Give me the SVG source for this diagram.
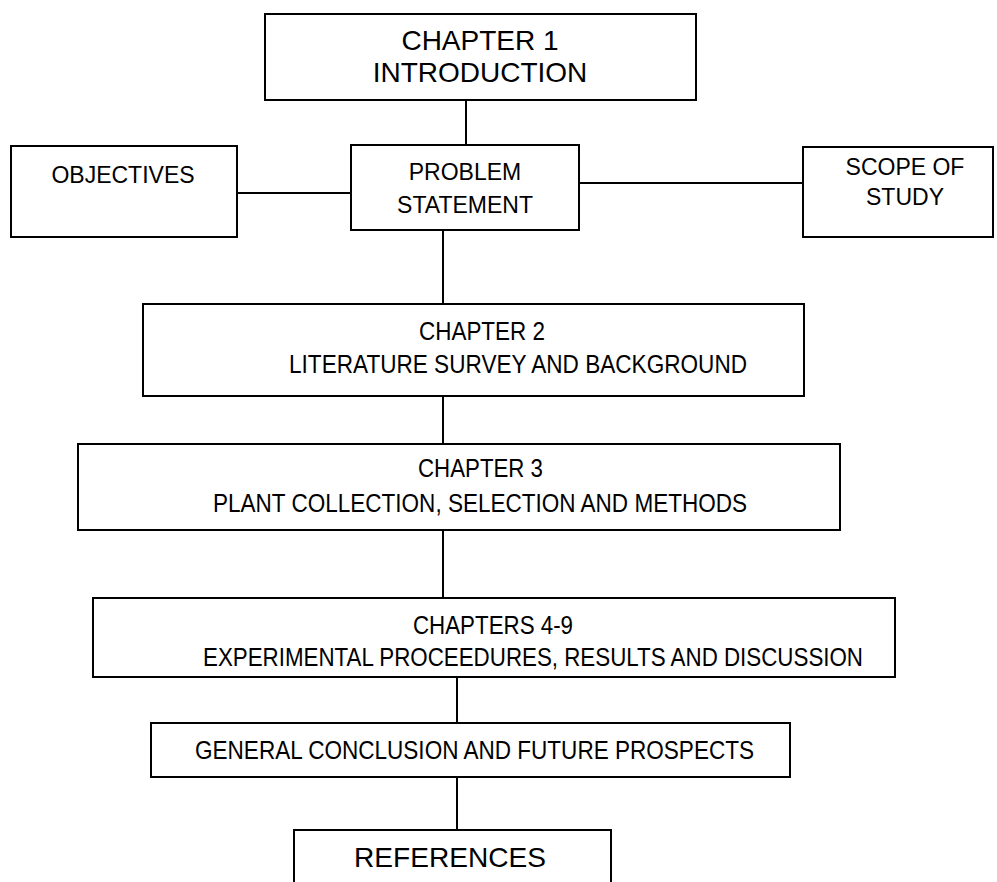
<svg xmlns="http://www.w3.org/2000/svg" width="997" height="882" viewBox="0 0 997 882">
<style>
rect{fill:#fff;stroke:#000;stroke-width:2}
line{stroke:#000;stroke-width:2}
text{font-family:"Liberation Sans",Arial,sans-serif;fill:#000}
.c{text-anchor:middle}
</style>
<rect x="0" y="0" width="997" height="882" style="stroke:none"/>
<g id="connectors">
<line x1="466" y1="100" x2="466" y2="145"/>
<line x1="237" y1="193" x2="351" y2="193"/>
<line x1="579" y1="183" x2="803" y2="183"/>
<line x1="443" y1="230" x2="443" y2="304"/>
<line x1="443" y1="396" x2="443" y2="444"/>
<line x1="443" y1="530" x2="443" y2="598"/>
<line x1="457" y1="677" x2="457" y2="723"/>
<line x1="457" y1="777" x2="457" y2="830"/>
</g>
<g id="ch1">
<rect x="265" y="14" width="431" height="86"/>
<text class="c" x="480" y="50" font-size="28">CHAPTER 1</text>
<text class="c" x="480" y="82" font-size="28">INTRODUCTION</text>
</g>
<g id="problem">
<rect x="351" y="145" width="228" height="85"/>
<text class="c" x="465" y="180" font-size="23">PROBLEM</text>
<text class="c" x="465" y="213" font-size="23">STATEMENT</text>
</g>
<g id="objectives">
<rect x="11" y="146" width="226" height="91"/>
<text class="c" x="123" y="183" font-size="23">OBJECTIVES</text>
</g>
<g id="scope">
<rect x="803" y="147" width="190" height="90"/>
<text class="c" x="905" y="175" font-size="23">SCOPE OF</text>
<text class="c" x="905" y="205" font-size="23">STUDY</text>
</g>
<g id="ch2">
<rect x="143" y="304" width="661" height="92"/>
<text x="419" y="340" font-size="26" textLength="126" lengthAdjust="spacingAndGlyphs">CHAPTER 2</text>
<text x="289" y="373" font-size="26" textLength="458" lengthAdjust="spacingAndGlyphs">LITERATURE SURVEY AND BACKGROUND</text>
</g>
<g id="ch3">
<rect x="78" y="444" width="762" height="86"/>
<text x="418" y="477" font-size="26" textLength="125" lengthAdjust="spacingAndGlyphs">CHAPTER 3</text>
<text x="213" y="512" font-size="26" textLength="534" lengthAdjust="spacingAndGlyphs">PLANT COLLECTION, SELECTION AND METHODS</text>
</g>
<g id="ch4to9">
<rect x="93" y="598" width="802" height="79"/>
<text x="413" y="634" font-size="26" textLength="160" lengthAdjust="spacingAndGlyphs">CHAPTERS 4-9</text>
<text x="203" y="666" font-size="26" textLength="660" lengthAdjust="spacingAndGlyphs">EXPERIMENTAL PROCEEDURES, RESULTS AND DISCUSSION</text>
</g>
<g id="general">
<rect x="151" y="723" width="639" height="54"/>
<text x="195" y="759" font-size="26" textLength="559" lengthAdjust="spacingAndGlyphs">GENERAL CONCLUSION AND FUTURE PROSPECTS</text>
</g>
<g id="references">
<rect x="294" y="830" width="317" height="62"/>
<text x="354" y="867" font-size="28" textLength="192" lengthAdjust="spacingAndGlyphs">REFERENCES</text>
</g>
</svg>
